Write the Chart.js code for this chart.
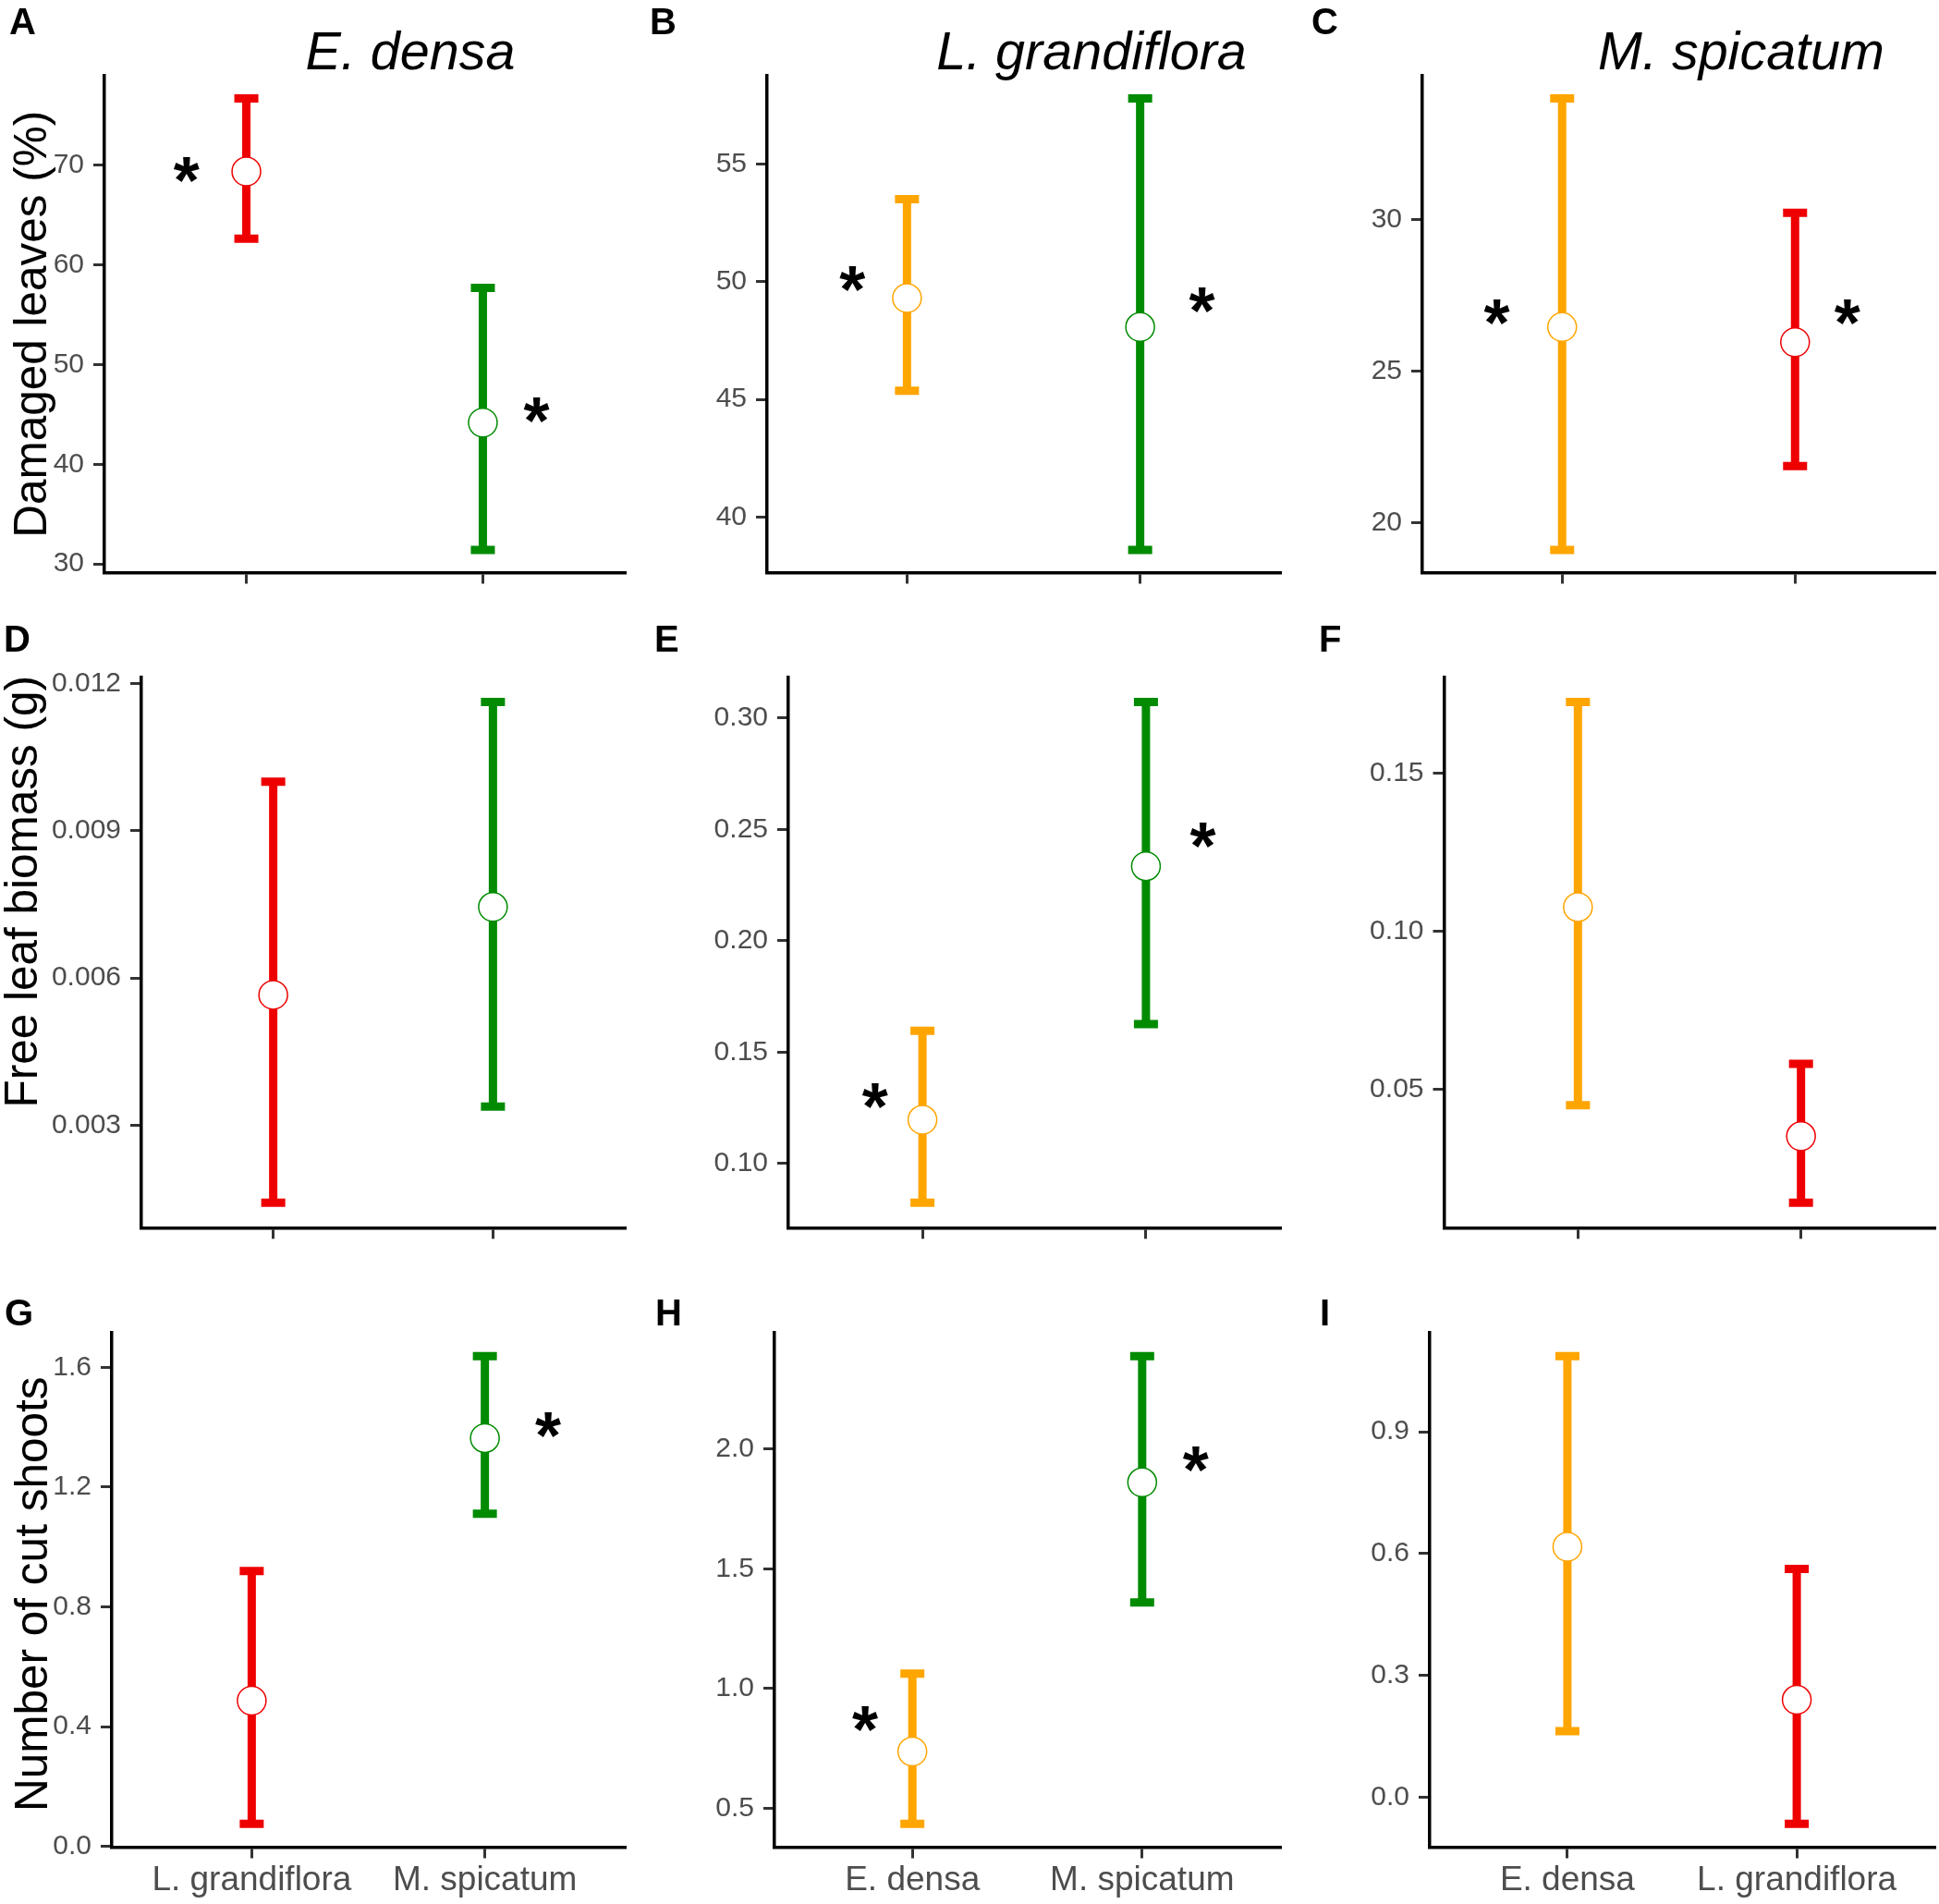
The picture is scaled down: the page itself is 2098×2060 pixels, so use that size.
<!DOCTYPE html>
<html lang="en">
<head>
  <meta charset="UTF-8">
  <title>Feeding damage on three plant species</title>
  <style>
    body { margin: 0; background: #fff; width: 2098px; height: 2060px; overflow: hidden; position: relative; font-family: "Liberation Sans", Arial, sans-serif; }
    canvas { position: absolute; }
    .letter { position: absolute; font-weight: bold; font-size: 40px; line-height: 1; color: #000; white-space: nowrap; }
    .species { position: absolute; width: 700px; text-align: center; font-style: italic; font-size: 57.5px; line-height: 1; color: #000; white-space: nowrap; }
    .ytitle { position: absolute; width: 700px; height: 49.5px; text-align: center; font-size: 49.5px; line-height: 1; color: #000; white-space: nowrap; transform: rotate(-90deg); transform-origin: 50% 50%; }
  </style>
</head>
<body>
  <div id="figure"></div>

  <script src="https://cdn.jsdelivr.net/npm/chart.js"></script>
  <script>
    // ---- data ----
    const panelLetters = ['A', 'B', 'C', 'D', 'E', 'F', 'G', 'H', 'I'];
    const columnSpecies = ['E. densa', 'L. grandiflora', 'M. spicatum'];
    const columnCategories = [
      ['L. grandiflora', 'M. spicatum'],
      ['E. densa', 'M. spicatum'],
      ['E. densa', 'L. grandiflora']
    ];
    const rowTitles = ['Damaged leaves (%)', 'Free leaf biomass (g)', 'Number of cut shoots'];

    const means = [
      [69.34, 44.17], [49.30, 48.07], [26.45, 25.95],
      [0.005655, 0.007445], [0.1196, 0.2335], [0.1077, 0.0353],
      [0.4865, 1.3635], [0.737, 1.861], [0.617, 0.2403]
    ];
    const lowers = [
      [62.61, 31.40], [45.36, 38.60], [19.10, 21.87],
      [0.00142, 0.003378], [0.0824, 0.1626], [0.0451, 0.0143],
      [0.0755, 1.1107], [0.435, 1.359], [0.1634, -0.0648]
    ];
    const uppers = [
      [76.67, 57.68], [53.50, 57.78], [33.99, 30.22],
      [0.0100, 0.011622], [0.1596, 0.3072], [0.1725, 0.0582],
      [0.9195, 1.637], [1.062, 2.388], [1.086, 0.5626]
    ];

    const yTicks = [
      [30, 40, 50, 60, 70], [40, 45, 50, 55], [20, 25, 30],
      [0.003, 0.006, 0.009, 0.012], [0.10, 0.15, 0.20, 0.25, 0.30], [0.05, 0.10, 0.15],
      [0.0, 0.4, 0.8, 1.2, 1.6], [0.5, 1.0, 1.5, 2.0], [0.0, 0.3, 0.6, 0.9]
    ];
    const yTickLabels = [
      ['30', '40', '50', '60', '70'], ['40', '45', '50', '55'], ['20', '25', '30'],
      ['0.003', '0.006', '0.009', '0.012'], ['0.10', '0.15', '0.20', '0.25', '0.30'], ['0.05', '0.10', '0.15'],
      ['0.0', '0.4', '0.8', '1.2', '1.6'], ['0.5', '1.0', '1.5', '2.0'], ['0.0', '0.3', '0.6', '0.9']
    ];

    // significance asterisks (x in category units, y in data units)
    const starX = [[0.747, 2.227], [0.766, 2.265], [0.719, 2.224], [], [0.788, 2.255], [], [2.271], [0.794, 2.233], []];
    const starY = [[69.53, 45.46], [50.13, 49.22], [26.96, 26.96], [], [0.1304, 0.2474], [], [1.4074], [0.8746, 1.9588], []];

    // ---- styles and layout ----
    const speciesColor = { 'E. densa': '#FFA500', 'L. grandiflora': '#EE0000', 'M. spicatum': '#008B00' };
    const FONT = '"Liberation Sans", Arial, sans-serif';

    const canvasLeft = [0, 700, 1400];
    const canvasWidth = [700, 700, 698];
    const canvasTop = [0, 680, 1390];
    const canvasHeight = [680, 710, 670];

    // plot box per panel: left, right, top, bottom (page pixels)
    const plotBoxes = [
      [113, 676, 82, 619.5], [830, 1385, 82, 619.5], [1539, 2093.5, 82, 619.5],
      [153, 676, 732.5, 1328.3], [853, 1385, 732.5, 1328.3], [1562.5, 2093.5, 732.5, 1328.3],
      [121, 676, 1442, 1998.5], [838, 1385, 1442, 1998.5], [1547, 2093, 1442, 1998.5]
    ];

    const letterPos = [[10, 3], [703, 3], [1419, 3], [4, 671], [708, 671], [1427, 671], [5, 1400], [709, 1400], [1428, 1400]];
    const speciesCenterX = [444, 1181, 1884];
    const speciesTop = 27;
    const yTitleCenter = [[33, 351], [23, 965], [34, 1725]];

    const errorBarPlugin = {
      id: 'errorBars',
      beforeDatasetsDraw(chart) {
        const ds = chart.data.datasets[0];
        const xs = chart.scales.x, ys = chart.scales.y;
        const ctx = chart.ctx;
        ctx.save();
        ctx.lineCap = 'butt';
        ctx.lineWidth = 9;
        ds.errLow.forEach(function (lo, i) {
          const x = xs.getPixelForValue(ds.data[i].x);
          const y0 = ys.getPixelForValue(lo);
          const y1 = ys.getPixelForValue(ds.errHigh[i]);
          ctx.strokeStyle = ds.pointBorderColor[i];
          ctx.beginPath();
          ctx.moveTo(x, y0); ctx.lineTo(x, y1);
          ctx.moveTo(x - 13, y0); ctx.lineTo(x + 13, y0);
          ctx.moveTo(x - 13, y1); ctx.lineTo(x + 13, y1);
          ctx.stroke();
        });
        ctx.restore();
      }
    };

    const starPlugin = {
      id: 'stars',
      afterDatasetsDraw(chart, args, opts) {
        if (!opts.xs || !opts.xs.length) return;
        const ctx = chart.ctx;
        ctx.save();
        ctx.font = 'bold 72px ' + FONT;
        ctx.fillStyle = '#000';
        ctx.textAlign = 'left';
        ctx.textBaseline = 'alphabetic';
        const m = ctx.measureText('*');
        opts.xs.forEach(function (xv, i) {
          const cx = chart.scales.x.getPixelForValue(xv);
          const cy = chart.scales.y.getPixelForValue(opts.ys[i]);
          const x = cx - (m.actualBoundingBoxRight - m.actualBoundingBoxLeft) / 2 + m.actualBoundingBoxLeft;
          const y = cy + (m.actualBoundingBoxAscent - m.actualBoundingBoxDescent) / 2;
          ctx.fillText('*', x, y);
        });
        ctx.restore();
      }
    };

    function addText(cls, text, left, top) {
      const d = document.createElement('div');
      d.className = cls;
      d.textContent = text;
      d.style.left = left + 'px';
      d.style.top = top + 'px';
      document.getElementById('figure').appendChild(d);
    }

    function drawPanel(p) {
      const row = Math.floor(p / 3), col = p % 3;
      const box = plotBoxes[p];
      const cats = columnCategories[col];
      const colors = cats.map(function (c) { return speciesColor[c]; });

      const canvas = document.createElement('canvas');
      canvas.width = canvasWidth[col];
      canvas.height = canvasHeight[row];
      canvas.style.left = canvasLeft[col] + 'px';
      canvas.style.top = canvasTop[row] + 'px';
      document.getElementById('figure').appendChild(canvas);

      const lo = Math.min.apply(null, lowers[p]);
      const hi = Math.max.apply(null, uppers[p]);
      const pad = (hi - lo) * 0.05;

      const axisWidth = box[0] - canvasLeft[col];
      const axisHeight = canvasTop[row] + canvasHeight[row] - box[3];

      new Chart(canvas.getContext('2d'), {
        type: 'scatter',
        data: {
          datasets: [{
            data: means[p].map(function (m, i) { return { x: i + 1, y: m }; }),
            errLow: lowers[p],
            errHigh: uppers[p],
            pointRadius: 15.5,
            pointHoverRadius: 15.5,
            pointBorderWidth: 1.5,
            pointBackgroundColor: '#ffffff',
            pointBorderColor: colors,
            showLine: false
          }]
        },
        options: {
          responsive: false,
          animation: false,
          devicePixelRatio: 1,
          events: [],
          layout: {
            autoPadding: false,
            padding: {
              left: 0,
              right: canvasLeft[col] + canvasWidth[col] - box[1],
              top: box[2] - canvasTop[row],
              bottom: 0
            }
          },
          plugins: {
            legend: { display: false },
            tooltip: { enabled: false },
            stars: { xs: starX[p], ys: starY[p] }
          },
          scales: {
            x: {
              type: 'linear',
              min: 0.4,
              max: 2.6,
              afterBuildTicks: function (scale) { scale.ticks = [{ value: 1 }, { value: 2 }]; },
              afterFit: function (scale) { scale.height = axisHeight; },
              border: { display: true, color: '#000000', width: 3.5 },
              grid: { display: true, drawOnChartArea: false, drawTicks: true, tickLength: 12, tickColor: '#333333', tickWidth: 3, lineWidth: 3 },
              ticks: {
                padding: 2,
                color: '#4D4D4D',
                font: { family: FONT, size: 37 },
                maxRotation: 0,
                autoSkip: false,
                callback: function (v) { return row === 2 ? cats[v - 1] : ''; }
              }
            },
            y: {
              type: 'linear',
              min: lo - pad,
              max: hi + pad,
              afterBuildTicks: function (scale) { scale.ticks = yTicks[p].map(function (v) { return { value: v }; }); },
              afterFit: function (scale) { scale.width = axisWidth; },
              border: { display: true, color: '#000000', width: 3.5 },
              grid: { display: true, drawOnChartArea: false, drawTicks: true, tickLength: 12, tickColor: '#333333', tickWidth: 3, lineWidth: 3 },
              ticks: {
                padding: 10,
                color: '#4D4D4D',
                font: { family: FONT, size: 30 },
                autoSkip: false,
                callback: function (v, i) { return yTickLabels[p][i]; }
              }
            }
          }
        },
        plugins: [errorBarPlugin, starPlugin]
      });

      addText('letter', panelLetters[p], letterPos[p][0], letterPos[p][1]);
    }

    for (let p = 0; p < 9; p++) drawPanel(p);

    columnSpecies.forEach(function (s, c) {
      addText('species', s, speciesCenterX[c] - 350, speciesTop);
    });
    rowTitles.forEach(function (t, r) {
      addText('ytitle', t, yTitleCenter[r][0] - 350, yTitleCenter[r][1] - 24.75);
    });
  </script>
</body>
</html>
